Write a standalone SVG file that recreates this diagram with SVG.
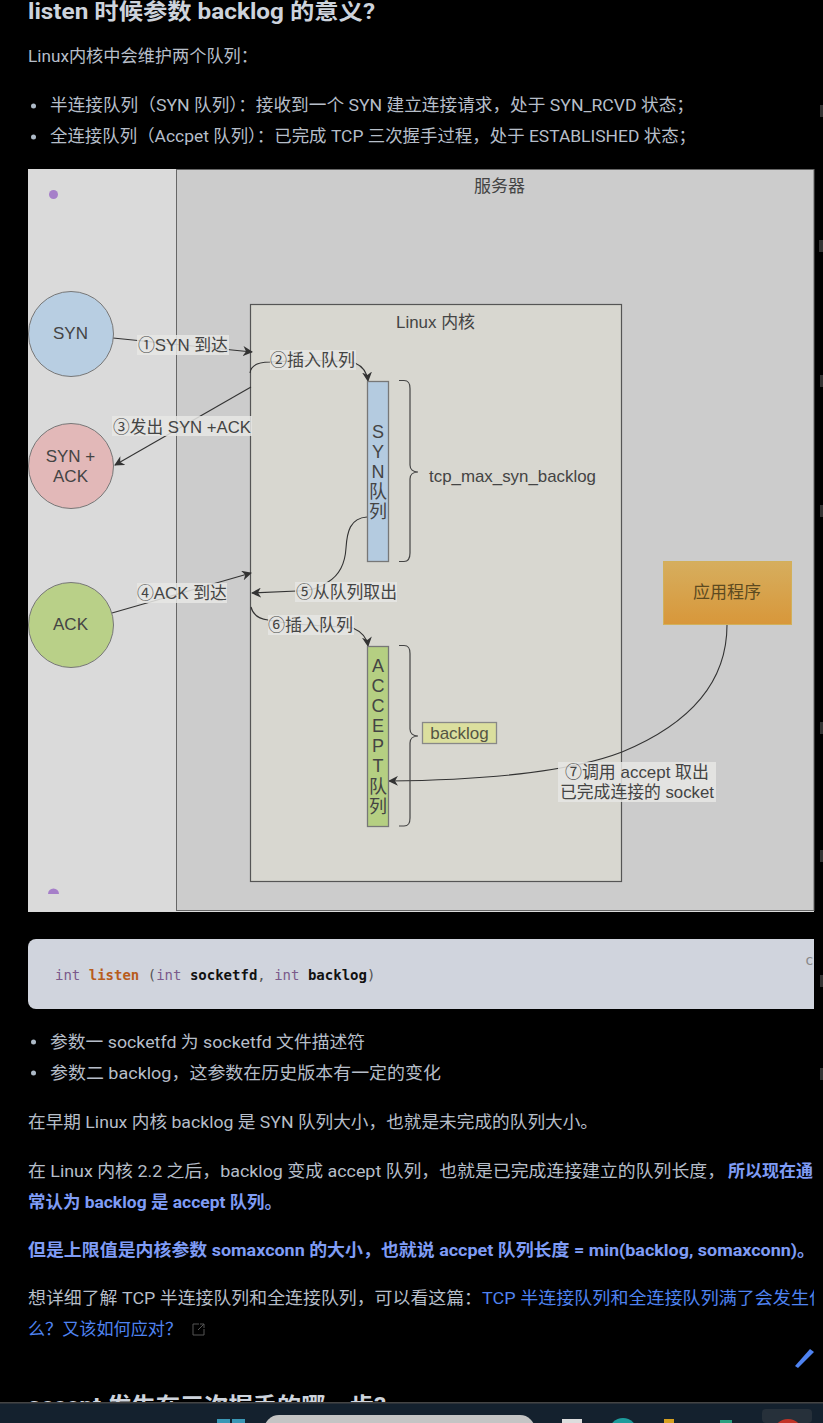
<svg xmlns="http://www.w3.org/2000/svg" width="823" height="1423" viewBox="0 0 823 1423">
<defs>
<style>
text{font-family:Roboto,"Noto Sans CJK SC",sans-serif}
.b{font-size:17px;fill:#b6bec9}
.bl{font-size:17px;fill:#7f9cf5;font-weight:700}
.lk{font-size:17px;fill:#4f83f1}
.h{font-size:22px;font-weight:700;fill:#cdd3dc}
.d{font-family:"Liberation Sans","Noto Sans CJK SC",sans-serif;font-size:17px;fill:#444}
.c{font-family:"DejaVu Sans Mono",monospace;font-size:14px}
.lab{fill:#e6e6e4;opacity:.85}
.e{fill:none;stroke:#333;stroke-width:1.1}
.br{fill:none;stroke:#444;stroke-width:1.2}
.q{font-family:"Liberation Sans","Noto Sans CJK SC",sans-serif;font-size:18px;fill:#444;text-anchor:middle}
</style>
<clipPath id="clip"><rect width="814" height="1423"/></clipPath>
<marker id="a" viewBox="0 0 10 10" refX="9" refY="5" markerWidth="10" markerHeight="10" orient="auto-start-reverse" markerUnits="userSpaceOnUse"><path d="M0 0L10 5L0 10L3 5Z" fill="#333"/></marker>
<linearGradient id="g" x1="0" y1="0" x2="0" y2="1"><stop offset="0" stop-color="#d6ae5e"/><stop offset="1" stop-color="#d8973a"/></linearGradient>
</defs>
<rect width="823" height="1423" fill="#000"/>
<g id="page-top">
<text class="h" x="28" y="19" textLength="347" lengthAdjust="spacingAndGlyphs">listen 时候参数 backlog 的意义?</text>
<text class="b" x="28" y="62" textLength="230" lengthAdjust="spacingAndGlyphs">Linux内核中会维护两个队列：</text>
<circle cx="33.500" cy="106" r="2.500" fill="#adbac7"/>
<text class="b" x="50" y="111" textLength="644" lengthAdjust="spacingAndGlyphs">半连接队列（SYN 队列）：接收到一个 SYN 建立连接请求，处于 SYN_RCVD 状态；</text>
<circle cx="33.500" cy="137" r="2.500" fill="#adbac7"/>
<text class="b" x="50" y="142" textLength="646" lengthAdjust="spacingAndGlyphs">全连接队列（Accpet 队列）：已完成 TCP 三次握手过程，处于 ESTABLISHED 状态；</text>
</g>
<g id="figure-bg">
<rect x="28" y="169" width="786" height="743" fill="#dadada"/>
<rect x="176.500" y="169.500" width="637.500" height="741" fill="#cccccc" stroke="#666"/>
<circle cx="53.500" cy="194.500" r="4.500" fill="#a67fc9"/>
<path d="M48 894a5 5 0 0 1 11 0Z" fill="#a67fc9"/>
<text class="d" x="499.500" y="192" text-anchor="middle">服务器</text>
</g>
<g id="kernel">
<rect x="250.500" y="304.500" width="371" height="577" fill="#d8d7d0" stroke="#555" stroke-width="1.2"/>
<text class="d" x="396" y="328" textLength="79" lengthAdjust="spacingAndGlyphs">Linux 内核</text>
</g>
<g id="connectors">
<path class="e" d="M113 338L252 352" marker-end="url(#a)"/>
<path class="e" d="M250 373C251 364 260 362 270 362C300 360 335 360 355 363C362 366 367 372 368 381" marker-end="url(#a)"/>
<path class="e" d="M251 387L115 465" marker-end="url(#a)"/>
<path class="e" d="M112 613L251 573" marker-end="url(#a)"/>
<path class="e" d="M367 517C350 518 347 532 346 548C345 565 338 576 328 582C318 590 305 591 297 591L252 593" marker-end="url(#a)"/>
<path class="e" d="M251 607C253 615 260 619 268 620C300 626 335 626 353 628C362 632 367 638 368 646" marker-end="url(#a)"/>
<path class="e" d="M727 625C727 690 680 728 622 752C570 772 480 780 389 781" marker-end="url(#a)"/>
<path class="br" d="M399 380.500h5c5 0 6 3 6 8V465c0 4 3 7 8 7c-5 0-8 3-8 7v74c0 5-1 8.500-6 8.500h-5"/>
<path class="br" d="M399 645.500h5c5 0 6 3 6 8V729c0 4 3 7 8 7c-5 0-8 3-8 7v75c0 5-1 8-6 8h-5"/>
</g>
<g id="syn-node"><circle cx="71" cy="334" r="42.500" fill="#b8cee2" stroke="#777"/><text class="d" x="70.500" y="339" text-anchor="middle">SYN</text></g>
<g id="synack-node"><circle cx="71" cy="466" r="42.500" fill="#e2b8b8" stroke="#777"/><text class="d" x="70.500" y="462" text-anchor="middle">SYN +</text><text class="d" x="70.500" y="482" text-anchor="middle">ACK</text></g>
<g id="ack-node"><circle cx="71" cy="625" r="42.500" fill="#b9d088" stroke="#777"/><text class="d" x="70.500" y="630" text-anchor="middle">ACK</text></g>
<g id="syn-queue"><rect x="367.500" y="381.500" width="21" height="180" fill="#b4cbe0" stroke="#777" stroke-width="1.3"/><text class="q" x="378" y="438">S</text><text class="q" x="378" y="458">Y</text><text class="q" x="378" y="478">N</text><text class="q" x="378" y="498">队</text><text class="q" x="378" y="518">列</text></g>
<g id="accept-queue"><rect x="367.500" y="646.500" width="21" height="180" fill="#b5cf82" stroke="#777" stroke-width="1.3"/><text class="q" x="378" y="672">A</text><text class="q" x="378" y="692">C</text><text class="q" x="378" y="712">C</text><text class="q" x="378" y="732">E</text><text class="q" x="378" y="752">P</text><text class="q" x="378" y="772">T</text><text class="q" x="378" y="793">队</text><text class="q" x="378" y="813">列</text></g>
<g id="labels">
<rect class="lab" x="137" y="335" width="92" height="20"/><text class="d" x="138" y="351" textLength="90" lengthAdjust="spacingAndGlyphs">①SYN 到达</text>
<rect class="lab" x="270" y="350" width="86" height="20"/><text class="d" x="270" y="366" textLength="85" lengthAdjust="spacingAndGlyphs">②插入队列</text>
<rect class="lab" x="112" y="416" width="140" height="20"/><text class="d" x="113" y="433" textLength="138" lengthAdjust="spacingAndGlyphs">③发出 SYN +ACK</text>
<rect class="lab" x="137" y="583" width="90" height="20"/><text class="d" x="137" y="599" textLength="90" lengthAdjust="spacingAndGlyphs">④ACK 到达</text>
<rect class="lab" x="295" y="582" width="102" height="20"/><text class="d" x="296" y="598" textLength="101" lengthAdjust="spacingAndGlyphs">⑤从队列取出</text>
<rect class="lab" x="268" y="615" width="86" height="20"/><text class="d" x="268" y="631" textLength="85" lengthAdjust="spacingAndGlyphs">⑥插入队列</text>
<rect class="lab" x="558" y="762" width="158" height="40"/><text class="d" x="565" y="778" textLength="144" lengthAdjust="spacingAndGlyphs">⑦调用 accept 取出</text><text class="d" x="560" y="798" textLength="154" lengthAdjust="spacingAndGlyphs">已完成连接的 socket</text>
</g>
<g id="tcp-max-label"><text class="d" x="429" y="482" textLength="167" lengthAdjust="spacingAndGlyphs">tcp_max_syn_backlog</text></g>
<g id="backlog-node"><rect x="422.500" y="722.500" width="74" height="21" fill="#dbdf9e" stroke="#888" stroke-width="1.3"/><text class="d" x="459.500" y="739" text-anchor="middle" style="fill:#554">backlog</text></g>
<g id="app-node"><rect x="663.500" y="561.500" width="128" height="63" fill="url(#g)" stroke="#d2b05a"/><text class="d" x="727" y="598" text-anchor="middle" style="fill:#5c4a20">应用程序</text></g>
<g id="code">
<path d="M36 939H814V1009H36a8 8 0 0 1-8-8V947a8 8 0 0 1 8-8Z" fill="#d0d4dd"/>
<text class="c" x="55" y="980"><tspan fill="#7b5a8b">int</tspan><tspan fill="#b85c1c" font-weight="700"> listen</tspan><tspan fill="#555"> (</tspan><tspan fill="#7b5a8b">int</tspan><tspan fill="#111" font-weight="700"> socketfd</tspan><tspan fill="#555">, </tspan><tspan fill="#7b5a8b">int</tspan><tspan fill="#111" font-weight="700"> backlog</tspan><tspan fill="#555">)</tspan></text>
<text class="c" x="805" y="965" fill="#888" font-size="12">c</text>
</g>
<g id="page-bottom" clip-path="url(#clip)">
<circle cx="33.500" cy="1042" r="2.500" fill="#adbac7"/>
<text class="b" x="50" y="1048" textLength="315" lengthAdjust="spacingAndGlyphs">参数一 socketfd 为 socketfd 文件描述符</text>
<circle cx="33.500" cy="1073" r="2.500" fill="#adbac7"/>
<text class="b" x="50" y="1079" textLength="391" lengthAdjust="spacingAndGlyphs">参数二 backlog，这参数在历史版本有一定的变化</text>
<text class="b" x="28" y="1128" textLength="570" lengthAdjust="spacingAndGlyphs">在早期 Linux 内核 backlog 是 SYN 队列大小，也就是未完成的队列大小。</text>
<text class="b" x="28" y="1177" textLength="697" lengthAdjust="spacingAndGlyphs">在 Linux 内核 2.2 之后，backlog 变成 accept 队列，也就是已完成连接建立的队列长度，</text>
<text class="bl" x="728" y="1177">所以现在通</text>
<text class="bl" x="28" y="1208" textLength="254" lengthAdjust="spacingAndGlyphs">常认为 backlog 是 accept 队列。</text>
<text class="bl" x="28" y="1256" textLength="787" lengthAdjust="spacingAndGlyphs">但是上限值是内核参数 somaxconn 的大小，也就说 accpet 队列长度 = min(backlog, somaxconn)。</text>
<text class="b" x="28" y="1304" textLength="454" lengthAdjust="spacingAndGlyphs">想详细了解 TCP 半连接队列和全连接队列，可以看这篇：</text>
<text class="lk" x="482" y="1304" textLength="345" lengthAdjust="spacingAndGlyphs">TCP 半连接队列和全连接队列满了会发生什</text>
<text class="lk" x="28" y="1335" textLength="154" lengthAdjust="spacingAndGlyphs">么？又该如何应对？</text>
<path d="M199 1324h-6v11h11v-6M198 1330l6-6m-4 0h4v4" fill="none" stroke="#555"/>
<path d="M795 1366l15-17 4 3-16 16Z" fill="#4f83f1"/>
<text class="h" x="28" y="1413" textLength="358" lengthAdjust="spacingAndGlyphs">accept 发生在三次握手的哪一步?</text>
</g>
<g id="taskbar">
<rect y="1403" width="823" height="20" fill="#14212e"/>
<rect y="1402" width="823" height="1.500" fill="#444"/>
<rect x="217" y="1419" width="13" height="4" fill="#3a97b5"/><rect x="232" y="1419" width="13" height="4" fill="#3a97b5"/>
<rect x="264" y="1415" width="271" height="30" rx="15" fill="#c4c4c4"/>
<rect x="562" y="1419" width="20" height="4" fill="#ddd"/>
<circle cx="623" cy="1432" r="14" fill="#1e9c9c"/>
<rect x="664" y="1419" width="10" height="4" fill="#d6a020"/>
<rect x="720" y="1420" width="12" height="3" fill="#2aa080"/>
<rect x="762" y="1409" width="50" height="14" rx="4" fill="#26303a"/>
<circle cx="788" cy="1434" r="15" fill="#c23327"/>
</g>
<g id="right-edge" fill="#333">
<rect x="820" y="105" width="3" height="12"/><rect x="819" y="240" width="4" height="12"/><rect x="820" y="375" width="3" height="12"/><rect x="820" y="505" width="3" height="12"/><rect x="820" y="722" width="3" height="12"/><rect x="820" y="850" width="3" height="12"/><rect x="820" y="975" width="3" height="12"/><rect x="820" y="1068" width="3" height="12"/>
</g>
</svg>
